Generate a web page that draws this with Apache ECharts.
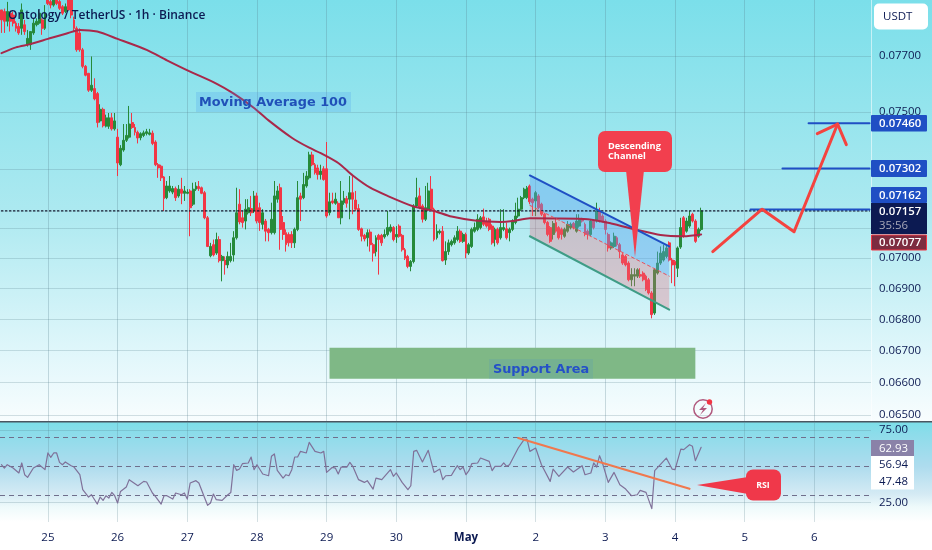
<!DOCTYPE html>
<html><head><meta charset="utf-8">
<style>html,body{margin:0;padding:0;background:#fff}#c{width:932px;height:550px}</style>
<script src="https://cdn.jsdelivr.net/npm/echarts@6/dist/echarts.min.js"></script>
</head><body><div id="c"></div>
<script>
// prices below are in units of 0.00001 USDT
const UNIT = 1e-5;
const opens = [7870,7864,7828,7858,7851,7821,7809,7802,7815,7742,7742,7785,7815,7821,7833,7802,7907,7901,7888,7912,7901,7882,7864,7907,7907,7833,7802,7785,7723,7663,7638,7577,7583,7565,7468,7509,7449,7449,7479,7440,7411,7315,7366,7400,7411,7462,7445,7428,7409,7417,7424,7421,7425,7394,7315,7310,7273,7202,7225,7221,7233,7208,7231,7217,7217,7225,7180,7231,7240,7236,7219,7134,7007,7044,7016,7061,6991,6993,6977,6991,7010,7067,7180,7134,7123,7151,7165,7157,7208,7168,7112,7123,7095,7084,7084,7197,7236,7118,7084,7078,7078,7050,7095,7208,7202,7242,7270,7349,7315,7304,7281,7301,7301,7151,7191,7183,7183,7134,7185,7199,7197,7219,7194,7165,7097,7075,7067,7086,7044,7021,7075,7075,7070,7078,7089,7101,7070,7106,7075,7027,7005,6972,6988,7174,7208,7174,7129,7163,7231,7163,7067,7084,7089,6993,7021,7044,7050,7061,7089,7055,7078,7016,7038,7089,7095,7101,7137,7123,7129,7106,7061,7095,7067,7095,7097,7084,7095,7118,7140,7163,7202,7202,7242,7197,7191,7208,7180,7146,7118,7101,7078,7118,7101,7095,7072,7089,7101,7115,7089,7106,7129,7112,7089,7078,7123,7123,7157,7140,7123,7078,7033,7038,7067,7044,7010,7005,6983,6928,6940,6940,6945,6950,6940,6928,6885,6820,6950,6983,6993,7005,7050,6993,6988,6966,7036,7134,7089,7106,7146,7123,7072,7095];
const closes = [7833,7828,7864,7828,7821,7802,7785,7870,7790,7765,7790,7821,7828,7858,7802,7858,7894,7888,7907,7894,7876,7858,7882,7870,7851,7802,7723,7723,7663,7631,7577,7595,7546,7462,7509,7451,7479,7479,7440,7468,7321,7372,7400,7417,7457,7445,7428,7408,7423,7426,7430,7426,7389,7315,7304,7270,7199,7242,7242,7233,7202,7231,7217,7225,7221,7168,7231,7242,7233,7217,7134,7038,7038,7010,7061,6991,7005,6977,7005,7005,7067,7151,7120,7118,7163,7168,7151,7208,7123,7118,7151,7089,7084,7129,7208,7225,7095,7078,7044,7050,7050,7095,7202,7197,7247,7276,7349,7315,7287,7281,7293,7264,7140,7188,7185,7197,7134,7191,7200,7183,7219,7197,7163,7095,7072,7063,7084,7044,7016,7067,7061,7050,7078,7101,7103,7061,7078,7072,7027,6999,6972,6988,7174,7202,7168,7129,7168,7225,7163,7061,7089,7089,6991,7021,7050,7055,7067,7089,7055,7078,7016,7044,7095,7101,7129,7134,7112,7106,7095,7050,7095,7050,7101,7101,7067,7095,7123,7140,7163,7202,7231,7236,7188,7185,7219,7168,7146,7118,7078,7055,7115,7089,7067,7078,7095,7112,7112,7101,7123,7129,7123,7078,7078,7123,7101,7157,7123,7123,7095,7033,7050,7072,7044,7021,6983,6977,6928,6945,6945,6961,6940,6928,6896,6885,6815,6961,6983,7016,7021,7033,6993,6977,6977,7033,7101,7072,7123,7140,7123,7055,7095,7157];
const highs = [7870,7875,7900,7864,7864,7828,7821,7894,7833,7796,7790,7839,7839,7870,7839,7888,7927,7912,7922,7922,7912,7888,7894,7917,7917,7845,7809,7802,7730,7668,7638,7699,7620,7571,7527,7515,7490,7496,7496,7496,7440,7383,7457,7457,7521,7496,7457,7434,7428,7434,7440,7440,7434,7400,7321,7315,7276,7259,7276,7242,7240,7245,7270,7242,7231,7231,7253,7255,7259,7240,7225,7140,7050,7061,7084,7072,7010,7005,7021,7050,7089,7236,7231,7157,7197,7197,7208,7225,7219,7185,7163,7130,7100,7185,7259,7242,7250,7140,7095,7085,7089,7101,7259,7219,7287,7293,7360,7360,7321,7315,7315,7310,7394,7219,7219,7219,7190,7259,7225,7208,7276,7276,7225,7180,7101,7080,7095,7095,7050,7075,7080,7080,7095,7157,7112,7106,7106,7112,7080,7033,7010,6993,7180,7270,7236,7180,7242,7253,7276,7168,7112,7095,7106,7055,7061,7061,7075,7106,7095,7084,7084,7050,7101,7118,7146,7140,7165,7134,7134,7112,7101,7101,7163,7163,7118,7101,7129,7185,7202,7208,7236,7242,7247,7202,7225,7214,7185,7151,7123,7106,7123,7134,7106,7101,7101,7123,7118,7120,7146,7146,7134,7118,7095,7129,7129,7185,7168,7146,7129,7084,7055,7084,7072,7050,7016,7010,6989,6966,6966,6966,6966,6956,6945,6934,6891,6966,7021,7038,7044,7044,7055,7000,6993,7038,7134,7140,7134,7157,7151,7129,7101,7168];
const lows = [7785,7785,7809,7790,7809,7790,7778,7778,7778,7735,7723,7778,7809,7815,7778,7796,7888,7876,7882,7888,7870,7851,7858,7864,7839,7790,7716,7716,7656,7627,7571,7571,7541,7445,7462,7445,7445,7440,7434,7434,7276,7310,7360,7394,7406,7440,7417,7389,7400,7411,7417,7417,7383,7310,7270,7259,7157,7197,7219,7214,7191,7202,7180,7191,7214,7072,7174,7225,7225,7214,7129,7036,7002,7005,7010,6985,6923,6945,6966,6985,6988,7061,7112,7101,7095,7145,7140,7150,7115,7090,7095,7055,7055,7078,7078,7185,7027,7060,7021,7038,7033,7033,7089,7123,7197,7236,7264,7310,7281,7264,7264,7260,7134,7142,7180,7178,7134,7112,7178,7168,7129,7146,7157,7090,7055,7055,7038,7021,6988,7005,6945,7040,7064,7072,7084,7055,7050,7067,7021,6993,6966,6956,6982,7168,7163,7118,7123,7157,7157,7055,7061,7078,6988,6977,7010,7038,7044,7055,7050,7050,6999,7010,7033,7084,7089,7095,7106,7101,7089,7044,7038,7044,7061,7089,7061,7055,7089,7112,7134,7157,7197,7197,7180,7140,7140,7163,7140,7112,7072,7050,7061,7084,7061,7061,7067,7084,7095,7095,7084,7101,7118,7072,7061,7072,7095,7118,7118,7118,7078,7021,7027,7033,7038,6999,6977,6972,6923,6907,6907,6934,6934,6923,6891,6880,6803,6814,6945,6977,6988,6999,6988,6917,6907,6937,7030,7067,7084,7100,7118,7050,7067,7089];
const lastPrice = 7157;

// 100-period moving average, read at its bends: [hour slot, price]
const maPoints = [[0,7711],[5,7732],[10,7744],[16,7763],[23,7785],[27,7796],[33,7790],[40,7763],[50,7723],[57,7685],[65,7644],[74,7601],[80,7565],[87,7514],[92,7470],[100,7409],[106,7374],[110,7355],[116,7321],[121,7278],[127,7236],[133,7208],[142,7172],[149,7157],[155,7138],[163,7125],[172,7120],[176,7123],[182,7132],[202,7129],[210,7115],[219,7093],[227,7076],[235,7072],[241,7078]];

// RSI read at its bends: [hour slot, value]
const rsiPoints = [[0,50.9],[1,48.6],[2,50.9],[4,48.6],[6,45.2],[7,52.1],[8,44],[9,42.2],[11,48.6],[13,50.9],[15,47.5],[16,59],[17,56],[18,59],[19,59],[20,52.5],[21,50.9],[22,52.8],[24,50.2],[25,49.3],[27,44],[28,33.7],[30,28.6],[31,30.2],[33,23.8],[34,28.6],[35,26.3],[36,29.5],[37,27.9],[38,31.8],[39,29.5],[40,24.5],[41,32.5],[43,35.5],[44,40.6],[47,36.4],[49,39.4],[50,39],[52,31.4],[53,29.1],[55,23.8],[56,29.5],[57,29.5],[59,27.2],[60,31.4],[62,30.2],[63,31.4],[64,27.2],[65,38.3],[67,39.9],[68,38.3],[70,27.9],[71,22.9],[72,24.5],[73,30.7],[74,26.8],[76,26.3],[78,30.2],[79,31.8],[80,50.9],[81,47],[82,47.9],[83,51.6],[85,52.1],[86,56.2],[87,47.5],[88,50.9],[90,44.5],[92,43.3],[93,56.7],[94,58.3],[95,47],[97,41.7],[98,44],[99,43.3],[100,47.5],[101,56.2],[102,56.2],[103,60.1],[105,59],[106,66.3],[108,60.1],[110,59],[111,60.1],[112,45.6],[114,49.1],[115,48.6],[116,44.5],[117,49.3],[119,49.3],[120,52.5],[121,49.8],[123,40.6],[125,38.7],[126,39.9],[128,34.1],[129,41.7],[131,40.6],[134,47.5],[135,42.9],[136,45.2],[138,38.7],[140,33.7],[141,36.4],[142,60.1],[143,60.8],[145,52.8],[147,60.8],[149,45.6],[151,47.9],[152,40.6],[153,43.3],[155,43.6],[156,47],[157,50.2],[158,47.5],[159,49.3],[160,44],[161,46.8],[162,51.6],[164,52.1],[165,55.5],[168,53.2],[169,46.8],[170,49.8],[172,49.8],[173,52.1],[174,49.8],[175,50.9],[178,62.4],[180,68.2],[181,68.6],[182,60.1],[184,62.4],[186,50.9],[189,39.4],[190,47.9],[192,42.9],[195,49.3],[197,45.9],[200,50.2],[201,44],[203,45.2],[204,52.1],[205,49.3],[206,57.1],[207,52.1],[209,38.7],[211,45.6],[213,37.1],[215,34.1],[217,29.5],[219,30.2],[220,33.2],[222,31.8],[224,20.6],[225,46.8],[229,55.5],[231,47.9],[232,47.5],[234,61.7],[235,61.3],[237,64.7],[238,63.6],[239,53.7],[241,62.93]];
const rsiTrend = [[178,69.3],[237,34.3]];
const rsiBands = [70,50,30];
const rsiTicks = [25,75];

// Drawn on the chart: [hour slot, price]
const channelTop = [[182,7278],[230,7038]];
const channelMid = [[182,7176],[230,6940]];
const channelBottom = [[182,7072],[230,6831]];
const supportArea = [[113,6709],[239,6612]];
const levelA = [[258,7162],[299,7162]];
const levelB = [[269,7302],[299,7302]];
const levelC = [[278,7460],[299,7460]];
const arrowPath = [[245,7021],[262,7163],[273,7087],[288,7457]];
const arrowHead = [[281,7423],[288,7457],[291,7385]];

const priceTicks = [0.077,0.075,0.073,0.071,0.07,0.069,0.068,0.067,0.066,0.065];
const priceLabels = [0.077,0.075,0.07,0.069,0.068,0.067,0.066,0.065];
const dayNames = ['25','26','27','28','29','30','May','2','3','4','5','6'];

const SLOTS = 300, FIRST_HOUR = 8;
const categories = [];
for (let i = 0; i < SLOTS; i++) {
  const h = i + FIRST_HOUR, d = Math.floor(h / 24) - 1;
  categories.push(h % 24 === 0 && d >= 0 ? dayNames[d] : '');
}
const isDay = (i, v) => v !== '';

const P = a => a.map(([i, p]) => [i, +(p * UNIT).toFixed(5)]);
const candles = opens.map((o, i) => [o, closes[i], lows[i], highs[i]].map(v => +(v * UNIT).toFixed(5)));
const lastLine = [[0, lastPrice * UNIT], [SLOTS - 1, lastPrice * UNIT]];

const RED = '#f23645', GREEN = '#268a3a', BLUE = '#1f4fc4', NAVY = '#0c1a52';
const FONT = '"Open Sans",sans-serif';
const LABEL = '"DejaVu Sans",sans-serif';

const polygons = [
  { pts: [channelTop[0], channelTop[1], channelMid[1], channelMid[0]], fill: 'rgba(90,165,240,0.42)' },
  { pts: [channelMid[0], channelMid[1], channelBottom[1], channelBottom[0]], fill: 'rgba(235,110,125,0.32)' },
  { pts: [[supportArea[0][0], supportArea[0][1]], [supportArea[1][0], supportArea[0][1]], [supportArea[1][0], supportArea[1][1]], [supportArea[0][0], supportArea[1][1]]], fill: '#7fb886' }
];

const line = (name, data, color, width, type, extra) => Object.assign({
  name, type: 'line', data, xAxisIndex: 0, yAxisIndex: 0, symbol: 'none', silent: true, animation: false,
  z: 5, lineStyle: { color, width, type: type || 'solid', cap: 'round', join: 'round' }
}, extra || {});

const T = (text, x, y, fill, size, weight, align, font, z) => ({
  type: 'text', z: z || 50, silent: true,
  style: { text, x, y, fill, fontSize: size, fontWeight: weight || 'normal', fontFamily: font || FONT, align: align || 'left', verticalAlign: 'middle', lineHeight: size + 0 }
});
const R = (x, y, w, h, fill, r, stroke, z) => ({
  type: 'rect', z: z || 40, silent: true, shape: { x, y, width: w, height: h, r: r || 0 },
  style: { fill, stroke: stroke || null, lineWidth: stroke ? 1 : 0 }
});
const PG = (points, fill, z) => ({ type: 'polygon', z: z || 40, silent: true, shape: { points }, style: { fill } });

const grad = stops => new echarts.graphic.LinearGradient(0, 0, 0, 1, stops.map(([offset, color]) => ({ offset, color })));

const graphic = [
  R(0, 0, 932, 421, grad([[0, '#7bdfea'], [0.5, '#ace9f0'], [0.85, '#e2f7fb'], [1, '#f8fdfe']]), 0, null, -10),
  R(0, 421, 932, 101, grad([[0, '#7adfe9'], [0.12, '#8cdcea'], [0.45, '#aedcee'], [0.72, '#d4eaf4'], [0.85, '#eefafb'], [1, '#ffffff']]), 0, null, -10),
  R(871, 0, 1, 421, 'rgba(255,255,255,0.55)', 0, null, -9),
  R(0, 421, 932, 1.4, '#4a5560', 0, null, 30),
  // header
  T('Ontology / TetherUS · 1h · Binance', 8, 16, NAVY, 12, 600),
  // Moving Average label
  R(196, 92, 155, 20, 'rgba(70,150,235,0.22)', 0, null, 8),
  T('Moving Average 100', 199, 103, '#2050b8', 12.85, 600, 'left', LABEL),
  // Support label
  R(489, 359, 104, 20, 'rgba(70,150,200,0.18)', 0, null, 8),
  T('Support Area', 541, 370, '#2450c8', 12.85, 600, 'center', LABEL),
  // Channel callout
  R(598, 131, 74, 41, '#f23f4e', 7),
  PG([[626, 170], [644, 170], [635, 257]], '#f23f4e'),
  T('Descending', 608, 146, '#fff', 9.2, 700),
  T('Channel', 608, 156, '#fff', 9.2, 700),
  // RSI callout
  R(746, 469.5, 35, 31, '#f0384a', 7),
  PG([[748, 477], [697, 485], [748, 494]], '#f0384a'),
  T('RSI', 763, 485, '#fff', 8.8, 700, 'center'),
  // Lightning badge
  { type: 'circle', z: 40, silent: true, shape: { cx: 703, cy: 409, r: 9.2 }, style: { fill: 'rgba(255,255,255,0)', stroke: '#b0597e', lineWidth: 1.5 } },
  PG([[706, 403], [699, 410], [703, 410], [700, 415], [707, 408], [703, 408]], '#b0597e'),
  { type: 'circle', z: 41, silent: true, shape: { cx: 709.5, cy: 402, r: 2.7 }, style: { fill: '#f23645' } },
  // Right scale tags
  R(874, 3.5, 54, 26, '#ffffff', 5),
  T('USDT', 883, 17, NAVY, 11.5, 400),
  R(871, 115, 56, 16.5, BLUE, 1),
  T('0.07460', 879, 123.5, '#fff', 11.4, 600),
  R(871, 160, 56, 17, BLUE, 1),
  T('0.07302', 879, 168.5, '#fff', 11.4, 600),
  R(871, 187, 56, 16, BLUE, 1),
  T('0.07162', 879, 195.5, '#fff', 11.4, 600),
  R(871, 203, 56, 31, NAVY, 0),
  T('0.07157', 879, 212, '#fff', 11.4, 600),
  T('35:56', 879, 225.5, '#a8a8b8', 11.4, 400),
  R(871.5, 235, 55, 15, '#7d2c40', 0, '#f23645'),
  T('0.07077', 879, 243, '#fff', 11.4, 600),
  // RSI scale tags
  R(871, 440, 43, 16, '#8a82a8', 0),
  T('62.93', 879, 448.5, '#fff', 11.4, 400),
  R(871, 456, 43, 33.5, '#ffffff', 0),
  T('56.94', 879, 465, NAVY, 11.4, 400),
  T('47.48', 879, 482, NAVY, 11.4, 400)
];

const option = {
  animation: false,
  backgroundColor: 'transparent',
  textStyle: { fontFamily: FONT },
  graphic,
  grid: [
    { left: 0, right: 61, top: 0, height: 421, show: false },
    { left: 0, right: 61, top: 423, height: 99, show: false }
  ],
  xAxis: [
    { type: 'category', gridIndex: 0, data: categories, boundaryGap: true,
      axisLine: { show: false }, axisTick: { show: false }, axisLabel: { show: false },
      splitLine: { show: true, interval: isDay, alignWithLabel: true, lineStyle: { color: 'rgba(85,125,140,0.28)', width: 1 } } },
    { type: 'category', gridIndex: 1, data: categories, boundaryGap: true,
      axisLine: { show: false }, axisTick: { show: false },
      axisLabel: { show: true, interval: isDay, margin: 10, color: NAVY, fontSize: 11.5, fontFamily: FONT, hideOverlap: false,
        formatter: v => v === 'May' ? '{b|May}' : v, rich: { b: { fontWeight: 700, fontSize: 11.5, color: NAVY, fontFamily: FONT } } },
      splitLine: { show: true, interval: isDay, alignWithLabel: true, lineStyle: { color: 'rgba(85,125,140,0.24)', width: 1 } } }
  ],
  yAxis: [
    { type: 'log', logBase: Math.E, gridIndex: 0, position: 'right', min: 0.06481, max: 0.07907,
      axisLine: { show: false }, axisTick: { show: false, customValues: priceTicks },
      axisLabel: { customValues: priceLabels, color: NAVY, fontSize: 11.4, margin: 8, padding: [3, 0, 0, 0], fontFamily: FONT, formatter: v => (+v).toFixed(5), hideOverlap: false, showMinLabel: true, showMaxLabel: true },
      splitLine: { show: true, lineStyle: { color: 'rgba(85,125,140,0.24)', width: 1 } } },
    { type: 'value', gridIndex: 1, position: 'right', min: 11.4, max: 79.66,
      axisLine: { show: false }, axisTick: { show: false, customValues: rsiTicks },
      axisLabel: { customValues: rsiTicks, color: NAVY, fontSize: 11.4, margin: 8, fontFamily: FONT, formatter: v => (+v).toFixed(2) },
      splitLine: { show: true, lineStyle: { color: 'rgba(85,125,140,0.24)', width: 1 } } }
  ],
  series: [
    { name: 'Support', type: 'custom', xAxisIndex: 0, yAxisIndex: 0, z: 1, silent: true, animation: false, clip: false,
      data: [2], encode: { x: 0, y: 0 },
      renderItem: (params, api) => polyItem(polygons[api.value(0)], api) },
    { name: 'ONTUSDT', type: 'candlestick', xAxisIndex: 0, yAxisIndex: 0, data: candles, barWidth: 2.4, z: 2, silent: true, animation: false,
      itemStyle: { color: GREEN, color0: RED, borderColor: GREEN, borderColor0: RED, borderWidth: 1 } },
    { name: 'Channel', type: 'custom', xAxisIndex: 0, yAxisIndex: 0, z: 3, silent: true, animation: false, clip: false,
      data: [0, 1], encode: { x: 0, y: 0 },
      renderItem: (params, api) => polyItem(polygons[api.value(0)], api) },
    line('Last price', lastLine, '#10142a', 1.2, [1.5, 2.5], { z: 4 }),
    line('MA 100', P(maPoints), '#a9284a', 2, 'solid', { smooth: 0.25 }),
    line('Channel top', P(channelTop), BLUE, 2),
    line('Channel mid', P(channelMid), '#e8505c', 1, [3, 3]),
    line('Channel bottom', P(channelBottom), '#3f9c86', 2),
    line('Level 0.07162', P(levelA), BLUE, 2),
    line('Level 0.07302', P(levelB), BLUE, 2),
    line('Level 0.07460', P(levelC), BLUE, 2),
    line('Arrow', P(arrowPath), '#f4433f', 3, 'solid', { z: 6 }),
    line('Arrow head', P(arrowHead), '#f4433f', 3, 'solid', { z: 6 }),
    line('RSI', rsiPoints, '#7f7199', 1.2, 'solid', { xAxisIndex: 1, yAxisIndex: 1,
      markLine: { silent: true, symbol: 'none', animation: false, label: { show: false },
        lineStyle: { color: '#6f6f8c', type: [5, 4], width: 1 }, data: rsiBands.map(yAxis => ({ yAxis })) } }),
    line('RSI trend', rsiTrend, '#f0784e', 2.2, 'solid', { xAxisIndex: 1, yAxisIndex: 1 })
  ]
};

function polyItem(poly, api) {
  return { type: 'polygon', silent: true,
    shape: { points: poly.pts.map(([i, p]) => api.coord([i, p * UNIT])) },
    style: { fill: poly.fill } };
}

const chart = echarts.init(document.getElementById('c'), null, { renderer: 'canvas', width: 932, height: 550 });
chart.setOption(option);
</script>
</body></html>
